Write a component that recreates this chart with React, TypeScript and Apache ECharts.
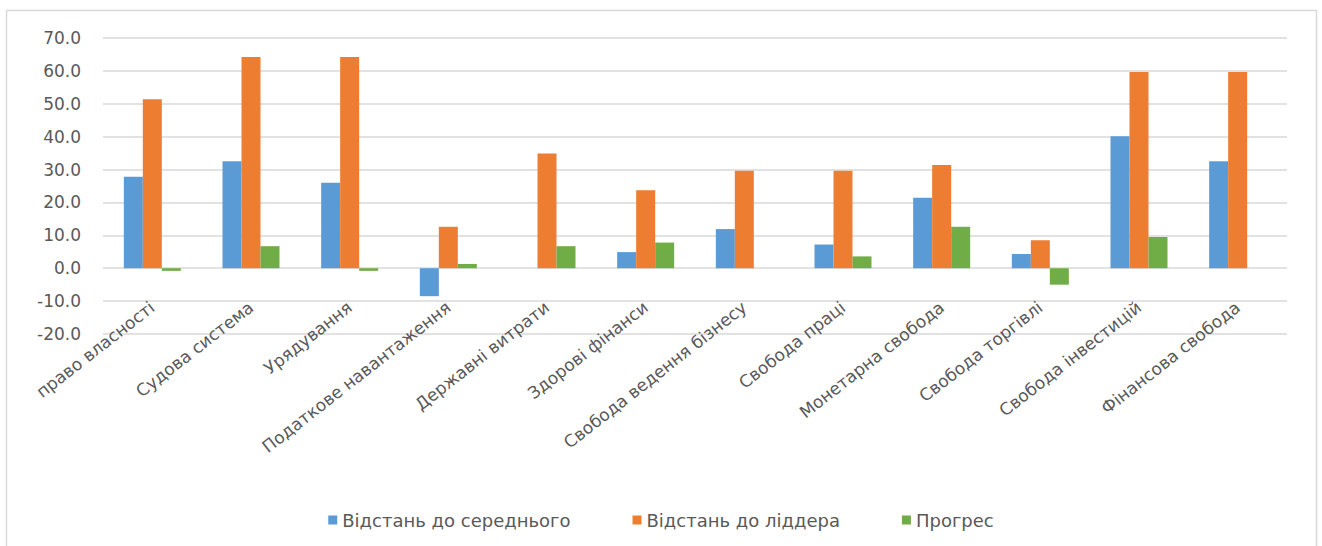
import React, { useEffect, useRef } from "react";
import * as echarts from "echarts";

const categories = [
  "право власності",
  "Судова система",
  "Урядування",
  "Податкове навантаження",
  "Державні витрати",
  "Здорові фінанси",
  "Свобода ведення бізнесу",
  "Свобода праці",
  "Монетарна свобода",
  "Свобода торгівлі",
  "Свобода інвестицій",
  "Фінансова свобода",
];

const distToAverage = [27.8, 32.5, 26.0, -8.5, 0, 4.9, 11.9, 7.2, 21.4, 4.3, 40.1, 32.5];
const distToLeader = [51.4, 64.2, 64.2, 12.6, 34.9, 23.7, 29.6, 29.6, 31.4, 8.5, 59.7, 59.7];
const progress = [-0.8, 6.7, -0.8, 1.3, 6.7, 7.8, 0, 3.6, 12.6, -5.0, 9.5, 0];

const seriesNames = ["Відстань до середнього", "Відстань до ліддера", "Прогрес"];
const colors = ["#5B9BD5", "#ED7D31", "#70AD47"];

export default function App() {
  const ref = useRef<HTMLDivElement>(null);
  useEffect(() => {
    if (!ref.current) return;
    const chart = echarts.init(ref.current, undefined, { renderer: "svg" });
    const font = "DejaVu Sans";
    const txt = "#595959";
    const data = [distToAverage, distToLeader, progress];
    chart.setOption({
      animation: false,
      color: colors,
      graphic: [
        {
          type: "rect",
          shape: { x: 6.5, y: 10.5, width: 1310, height: 560 },
          style: { fill: "none", stroke: "#D9D9D9", lineWidth: 1.5 },
          silent: true,
        },
      ],
      grid: { left: 103, right: 35, top: 38, bottom: 212 },
      legend: {
        data: seriesNames,
        left: "center",
        top: 506,
        icon: "rect",
        itemWidth: 9,
        itemHeight: 9,
        itemGap: 62,
        textStyle: { color: txt, fontSize: 18, fontFamily: font },
      },
      xAxis: {
        type: "category",
        data: categories,
        offset: -53,
        axisLine: { show: false },
        axisTick: { show: false },
        axisLabel: {
          rotate: 38,
          interval: 0,
          margin: 24,
          color: txt,
          fontSize: 17,
          fontFamily: font,
        },
      },
      yAxis: {
        type: "value",
        min: -20,
        max: 70,
        interval: 10,
        axisLine: { show: false },
        axisTick: { show: false },
        splitLine: { lineStyle: { color: "#D9D9D9", width: 1.5 } },
        axisLabel: {
          margin: 22,
          color: txt,
          fontSize: 17,
          fontFamily: font,
          formatter: (v: number) => v.toFixed(1),
        },
      },
      series: seriesNames.map((name, i) => ({
        name,
        type: "bar",
        data: data[i],
        barWidth: 19,
        barGap: "0%",
        itemStyle: { color: colors[i] },
      })),
    });
    return () => chart.dispose();
  }, []);
  return (
    <div
      ref={ref}
      style={{ position: "absolute", left: 0, top: 0, width: 1322, height: 546, background: "#fff" }}
    />
  );
}
